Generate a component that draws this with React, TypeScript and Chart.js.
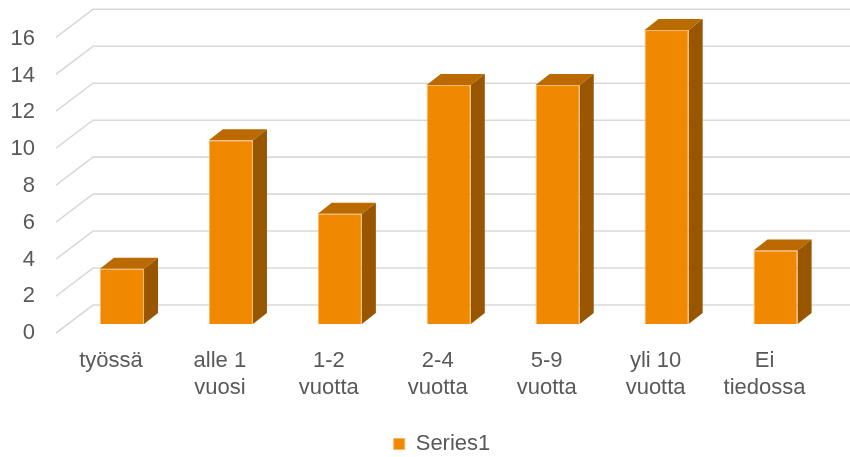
import React, { useEffect, useRef } from 'react';
import { Chart, registerables } from 'chart.js';

Chart.register(...registerables);

const categories: string[][] = [
  ['työssä'],
  ['alle 1', 'vuosi'],
  ['1-2', 'vuotta'],
  ['2-4', 'vuotta'],
  ['5-9', 'vuotta'],
  ['yli 10', 'vuotta'],
  ['Ei', 'tiedossa'],
];
const series1: number[] = [3, 10, 6, 13, 13, 16, 4];
const seriesName = 'Series1';
const yMin = 0;
const yMax = 16;
const yStep = 2;

const FRONT = '#F08800';
const TOP = '#BA6A00';
const SIDE = '#995600';
const GRID = '#D9D9D9';
const TEXT = '#595959';
const FONT = "'Liberation Sans', Arial, sans-serif";

const DEPTH_DX = 14;
const DEPTH_DY = 11;

const bar3d = {
  id: 'bar3d',
  afterLayout(chart: any) {
    if (chart.legend) {
      chart.legend.left = 54;
      chart.legend.right = 830;
      chart.legend.width = 776;
    }
  },
  beforeDatasetsDraw(chart: any) {
    const { ctx, chartArea, scales } = chart;
    const ys = scales.y;
    ctx.save();
    ctx.strokeStyle = GRID;
    ctx.lineWidth = 1.6;
    ys.ticks.forEach((t: any) => {
      const fy = ys.getPixelForValue(t.value);
      const by = chartArea.bottom - 19 - (chartArea.bottom - fy) * 1.0055;
      const bx = chartArea.left + 25.5;
      ctx.beginPath();
      ctx.moveTo(chartArea.left - 11.5, by + 28);
      ctx.lineTo(bx, by);
      ctx.lineTo(chart.width, by);
      ctx.stroke();
    });
    const meta = chart.getDatasetMeta(0);
    meta.data.forEach((bar: any) => {
      const { x, y, base, width } = bar.getProps(['x', 'y', 'base', 'width'], true);
      const l = x - width / 2;
      const r = x + width / 2;
      ctx.fillStyle = TOP;
      ctx.beginPath();
      ctx.moveTo(l, y);
      ctx.lineTo(r, y);
      ctx.lineTo(r + DEPTH_DX, y - DEPTH_DY);
      ctx.lineTo(l + DEPTH_DX, y - DEPTH_DY);
      ctx.closePath();
      ctx.fill();
      ctx.fillStyle = SIDE;
      ctx.beginPath();
      ctx.moveTo(r, y);
      ctx.lineTo(r + DEPTH_DX, y - DEPTH_DY);
      ctx.lineTo(r + DEPTH_DX, base - DEPTH_DY);
      ctx.lineTo(r, base);
      ctx.closePath();
      ctx.fill();
    });
    ctx.restore();
  },
};

export default function App() {
  const ref = useRef<HTMLCanvasElement | null>(null);
  useEffect(() => {
    if (!ref.current) return;
    const chart = new Chart(ref.current, {
      type: 'bar',
      data: {
        labels: categories,
        datasets: [
          {
            label: seriesName,
            data: series1,
            backgroundColor: FRONT,
            borderColor: 'rgba(255,180,90,0.9)',
            borderWidth: 1,
            barPercentage: 0.405,
            categoryPercentage: 1,
          },
        ],
      },
      options: {
        responsive: false,
        animation: false,
        layout: { padding: { top: 29.9, right: 20, left: 0, bottom: 0 }, autoPadding: false },
        plugins: {
          legend: {
            position: 'bottom',
            maxHeight: 26,
            labels: {
              boxWidth: 11,
              boxHeight: 11,
              padding: 2,
              color: TEXT,
              font: { family: FONT, size: 22 },
            },
          },
          tooltip: { enabled: false },
        },
        scales: {
          x: {
            grid: { display: false, drawTicks: false },
            border: { display: false },
            afterFit: (s: any) => {
              s.height = 107;
            },
            ticks: {
              color: TEXT,
              font: { family: FONT, size: 22 },
              padding: 24,
              labelOffset: -11,
              autoSkip: false,
              maxRotation: 0,
            },
          },
          y: {
            min: yMin,
            max: yMax,
            grid: { display: false, drawTicks: false },
            border: { display: false },
            afterFit: (s: any) => {
              s.width = 67.5;
              s.paddingTop = 0;
              s.paddingBottom = 0;
            },
            ticks: {
              stepSize: yStep,
              color: TEXT,
              font: { family: FONT, size: 22 },
              padding: 32.5,
              labelOffset: 9,
            },
          },
        },
      },
      plugins: [bar3d],
    });
    return () => chart.destroy();
  }, []);
  return (
    <canvas
      ref={ref}
      width={850}
      height={457}
      style={{ position: 'fixed', left: 0, top: 0, width: 850, height: 457 }}
    />
  );
}
